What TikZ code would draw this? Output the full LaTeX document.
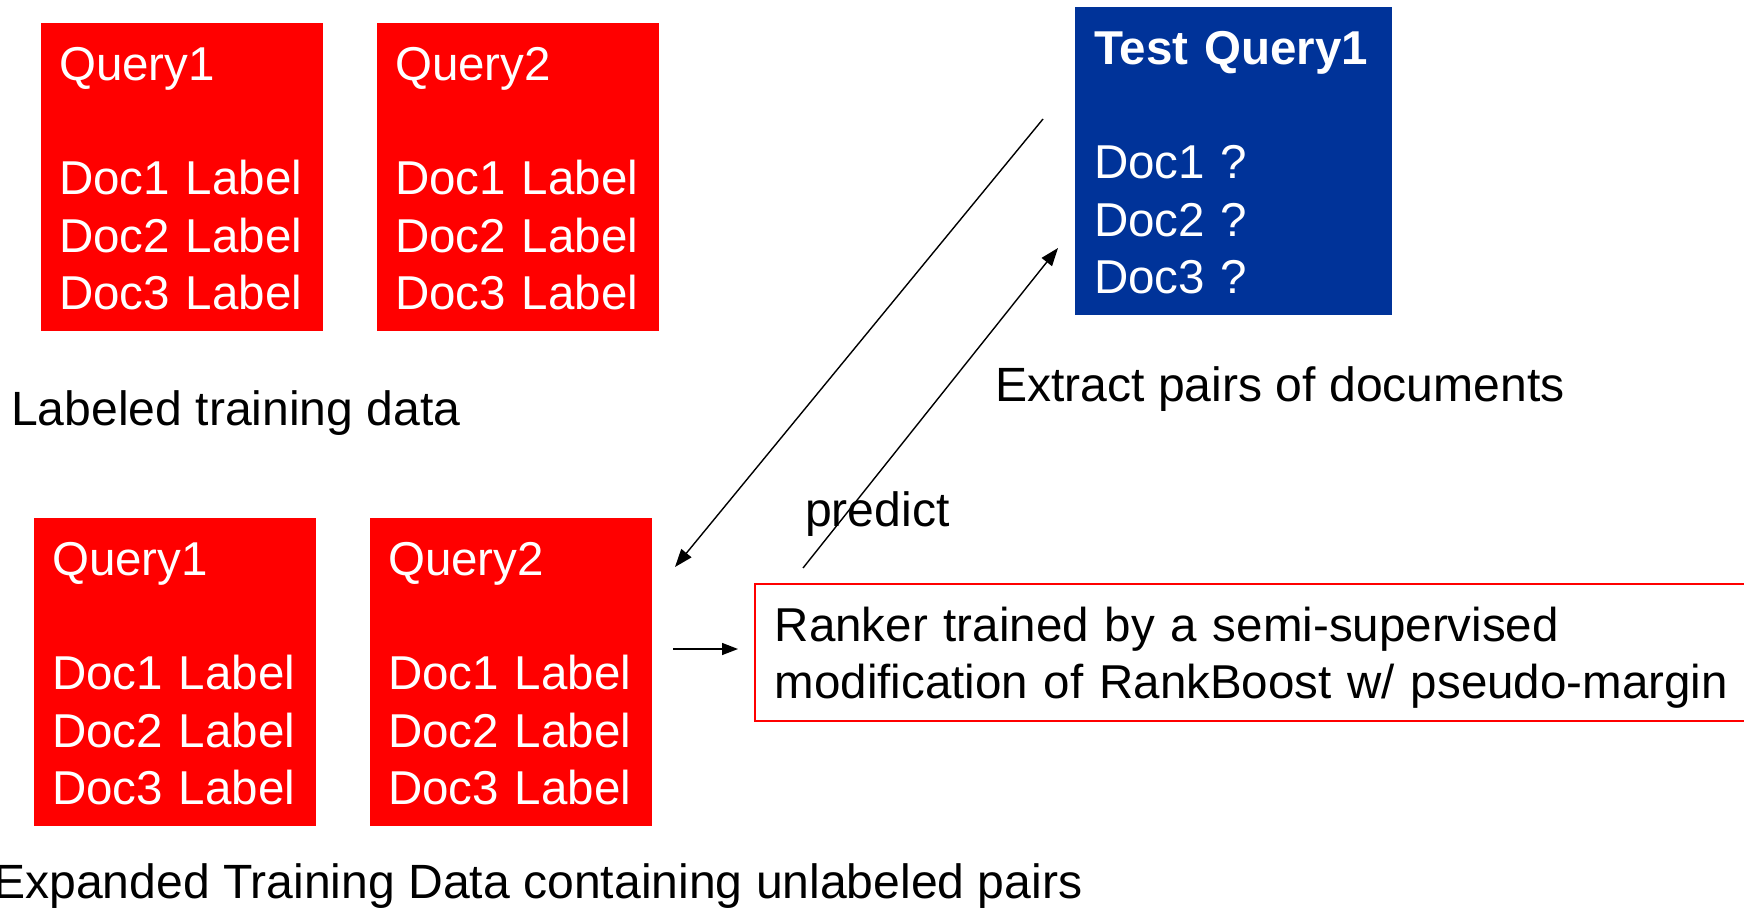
\documentclass[tikz,border=0pt]{standalone}
\usepackage{fontspec}
\setmainfont{Liberation Sans}
\usetikzlibrary{arrows.meta}
\definecolor{qred}{RGB}{255,0,0}
\definecolor{qblue}{RGB}{0,51,153}
\newcommand{\bigtext}{\fontsize{47.5}{57.4}\selectfont}
\newcommand{\captext}{\fontsize{48.1}{57.4}\selectfont}

\begin{document}
\begin{tikzpicture}[x=1pt,y=-1pt,
  querybox/.style={fill=qred, text=white, anchor=north west,
    minimum height=308pt, inner xsep=18pt, inner ysep=0pt,
    text width=246pt, align=left, font=\bigtext},
  testbox/.style={fill=qblue, text=white, anchor=north west,
    minimum height=308pt, inner xsep=19pt, inner ysep=0pt,
    text width=279pt, align=left, font=\bigtext},
  rankbox/.style={draw=qred, line width=1.5pt, anchor=north west,
    minimum height=137pt, inner xsep=20pt, inner ysep=0pt,
    text width=1100pt, align=left, font=\bigtext},
  caption/.style={anchor=base west, inner sep=0pt, font=\captext},
  link/.style={line width=1.4pt, -{Triangle[length=18pt,width=13pt]}},
  feed/.style={line width=1.4pt, -{Triangle[length=16pt,width=12pt]}}
]
\useasboundingbox (0,0) rectangle (1744,907);

% labelled training queries
\node[querybox] (train1) at (41,23)
  {\rule{0pt}{36pt}Query1\\ \mbox{}\\ Doc1~Label\\ Doc2~Label\\ Doc3~Label};
\node[querybox] (train2) at (377,23)
  {\rule{0pt}{36pt}Query2\\ \mbox{}\\ Doc1~Label\\ Doc2~Label\\ Doc3~Label};
\node[caption] (trainCap) at (11,425) {Labeled training data};

% unlabelled test query
\node[testbox] (test) at (1075,7)
  {\rule{0pt}{36pt}\textbf{Test~Query1}\\ \mbox{}\\ Doc1~?\\ Doc2~?\\ Doc3~?};
\node[caption] (extractCap) at (995,401) {Extract pairs of documents};

% expanded training set
\node[querybox] (exp1) at (34,518)
  {\rule{0pt}{36pt}Query1\\ \mbox{}\\ Doc1~Label\\ Doc2~Label\\ Doc3~Label};
\node[querybox] (exp2) at (370,518)
  {\rule{0pt}{36pt}Query2\\ \mbox{}\\ Doc1~Label\\ Doc2~Label\\ Doc3~Label};
\node[caption] (expCap) at (-7,898) {Expanded Training Data containing unlabeled pairs};

% ranker
\node[rankbox] (ranker) at (754,583)
  {\rule{0pt}{45pt}Ranker trained by a semi-supervised\\ modification of RankBoost w/ pseudo-margin};
\node[caption] (predictCap) at (805,526) {predict};

% connectors
\coordinate (extractFrom) at (1043,119);
\coordinate (extractTo) at (675,567);
\coordinate (predictFrom) at (803,568);
\coordinate (predictTo) at (1058,248);
\coordinate (feedFrom) at (673,649);
\coordinate (feedTo) at (738,649);
\draw[link] (extractFrom) -- (extractTo);
\draw[link] (predictFrom) -- (predictTo);
\draw[feed] (feedFrom) -- (feedTo);
\end{tikzpicture}
\end{document}
